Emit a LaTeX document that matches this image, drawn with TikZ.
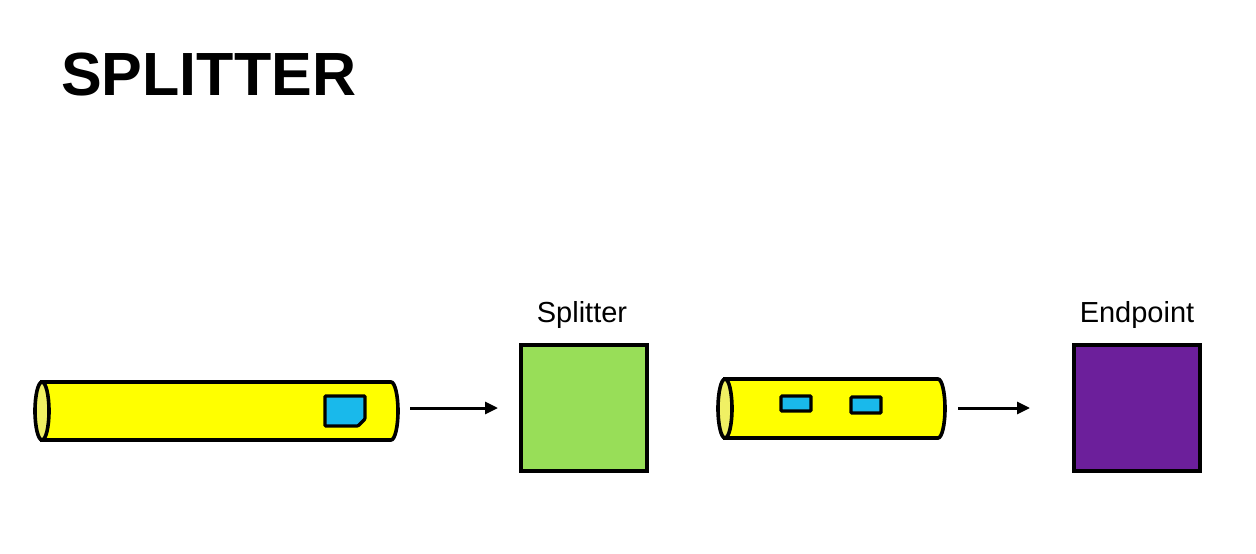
\documentclass[tikz,border=0pt]{standalone}
\usepackage{fontspec}
\setmainfont{Liberation Sans}
\usetikzlibrary{arrows.meta}
\definecolor{pipeyellow}{RGB}{255,255,0}
\definecolor{pipeend}{RGB}{240,240,100}
\definecolor{chipblue}{RGB}{25,185,235}
\definecolor{splittergreen}{RGB}{152,222,88}
\definecolor{endpurple}{RGB}{108,31,155}
\tikzset{
  pipebody/.style={draw=black, line width=3.6pt, fill=pipeyellow},
  pipecap/.style={draw=black, line width=3.6pt, fill=pipeend},
  chip/.style={draw=black, line width=3.2pt, fill=chipblue, rounded corners=1pt},
  bigbox/.style={draw=black, line width=4.5pt, minimum width=126pt, minimum height=126pt, inner sep=0pt, outer sep=0pt},
  lbl/.style={font=\fontsize{29}{30}\selectfont, inner sep=0pt},
  flow/.style={draw=black, line width=3pt, -{Triangle[length=13pt,width=12pt]}},
  ghost/.style={inner sep=0pt, outer sep=0pt}
}
\begin{document}
\begin{tikzpicture}[x=1pt,y=-1pt]
\useasboundingbox[fill=white] (0,0) rectangle (1256,554);
% title
\node[anchor=base west, inner sep=0pt, font=\fontsize{61}{61}\selectfont\bfseries] (title) at (61,95) {SPLITTER};
% pipe A
\node[ghost, minimum width=363pt, minimum height=58pt] (pipeA) at (216.5,411) {};
\path[pipebody] (42,382) -- (391,382) arc[start angle=-90, end angle=90, x radius=7, y radius=29] -- (42,440) -- cycle;
\path[pipecap] (42,411) ellipse [x radius=7, y radius=29];
\path[chip] (325,396) -- (365,396) -- (365,419) -- (358,426) -- (325,426) -- cycle;
% splitter
\node[bigbox, fill=splittergreen] (splitter) at (584,408) {};
\node[lbl, anchor=base] (splitterlbl) at (582,322) {Splitter};
% pipe B
\node[ghost, minimum width=227pt, minimum height=59pt] (pipeB) at (831.5,408.5) {};
\path[pipebody] (725,379) -- (938,379) arc[start angle=-90, end angle=90, x radius=7, y radius=29.5] -- (725,438) -- cycle;
\path[pipecap] (725,408.5) ellipse [x radius=7, y radius=29.5];
\path[chip] (781,396) rectangle (811,411);
\path[chip] (851,397) rectangle (881,413);
% endpoint
\node[bigbox, fill=endpurple] (endpoint) at (1137,408) {};
\node[lbl, anchor=base] (endpointlbl) at (1137,322) {Endpoint};
% connectors
\draw[flow, shorten <=12pt, shorten >=23pt] (pipeA.east |- splitter.west) -- (splitter.west);
\draw[flow, shorten <=13pt, shorten >=44pt] (pipeB.east |- endpoint.west) -- (endpoint.west);
\end{tikzpicture}
\end{document}
